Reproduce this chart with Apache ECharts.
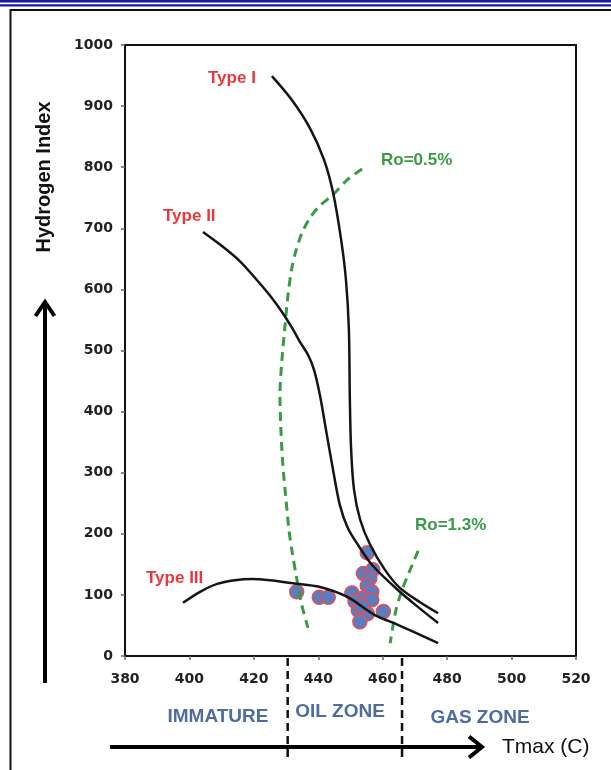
<!DOCTYPE html>
<html>
<head>
<meta charset="utf-8">
<script src="https://cdn.jsdelivr.net/npm/echarts@6/dist/echarts.min.js"></script>
<style>html,body{margin:0;padding:0;background:#fff;}#c{width:611px;height:770px;}</style>
</head>
<body>
<div id="c"></div>
<script>
// ---- data (Tmax °C, Hydrogen Index) ----
var xTicks = [380, 400, 420, 440, 460, 480, 500, 520];
var yTicks = [0, 100, 200, 300, 400, 500, 600, 700, 800, 900, 1000];
var samples = [[433.3,105],[440.3,96],[443.1,96],[450.4,103],[455.2,169],[454,135],[456.9,141],[456,127],[455.2,115],[456.6,105],[453.5,94],[456.6,92],[451.4,89],[452.4,75],[455.2,69],[460.2,73],[452.9,56],[453.5,82]];
var typeI = [[425.6,949],[431.8,910],[437.4,864],[441.8,812],[444.6,758],[447.1,681],[448.6,615],[449.5,534],[449.8,419],[450.2,337],[451.1,272],[453.0,223],[456.1,182],[460.7,141],[465.4,111],[471.6,88],[477.2,70]];
var typeII = [[404.2,694],[410.1,671],[415.7,646],[421.0,615],[425.6,586],[429.0,561],[432.2,534],[434.3,514],[436.8,493],[438.7,468],[440.5,427],[442.4,370],[444.6,304],[446.7,247],[449.2,209],[452.3,182],[456.7,149],[464.7,108],[471.0,80],[477.2,54]];
var typeIII = [[398.0,87],[403.3,105],[408.6,118],[414.1,124],[419.4,126],[425.0,124],[432.2,119],[440.5,113],[448.9,97],[457.6,67],[464.7,51],[477.2,21]];
var ro05 = [[453.6,797],[448.9,779],[444.6,755],[440.5,737],[437.4,717],[434.9,692],[433.1,664],[431.8,635],[430.6,591],[429.7,542],[428.7,484],[428.1,427],[428.4,370],[429.0,313],[430.0,255],[430.9,206],[431.8,173],[433.4,124],[434.9,83],[436.8,46]];
var ro13 = [[471.0,172],[468.5,141],[466.0,108],[464.1,75],[462.3,21]];
var zoneBounds = [430.5, 466];
var labels = {typeI:'Type I', typeII:'Type II', typeIII:'Type III', ro05:'Ro=0.5%', ro13:'Ro=1.3%'};

var chart = echarts.init(document.getElementById('c'), null, {renderer:'canvas'});
var blackLine = {color:'#151515', width:2.5};
var greenDash = {color:'#3a9a46', width:3, type:[9,6]};
function curve(d, ls, z){
  return {type:'line', data:d, showSymbol:false, symbol:'none', smooth:0.3, lineStyle:ls, z:z, silent:true};
}
var option = {
  animation:false,
  backgroundColor:'#fff',
  grid:{left:125, top:45, right:35, bottom:114, show:true, borderColor:'#111', borderWidth:2, backgroundColor:'transparent'},
  xAxis:{type:'value', min:xTicks[0], max:xTicks[xTicks.length-1], interval:20,
    axisLine:{show:true, onZero:false, lineStyle:{color:'#111', width:2}},
    axisTick:{show:true, length:4, lineStyle:{color:'#666', width:1.5}},
    axisLabel:{margin:16, fontFamily:'DejaVu Sans', fontWeight:'bold', fontSize:14, color:'#222', formatter:function(v){return String(v);}},
    splitLine:{show:false}},
  yAxis:{type:'value', min:yTicks[0], max:yTicks[yTicks.length-1], interval:100,
    axisLine:{show:true, onZero:false, lineStyle:{color:'#111', width:2}},
    axisTick:{show:true, length:4, lineStyle:{color:'#666', width:1.5}},
    axisLabel:{margin:12, fontFamily:'DejaVu Sans', fontWeight:'bold', fontSize:14, color:'#222', formatter:function(v){return String(v);}},
    splitLine:{show:false}},
  series:[
    {type:'scatter', data:samples, symbolSize:14, z:2,
      itemStyle:{color:'#5b7dbd', borderColor:'#e0505a', borderWidth:1.5, opacity:1}},
    curve(ro05, greenDash, 3),
    curve(ro13, greenDash, 3),
    curve(typeI, blackLine, 4),
    curve(typeII, blackLine, 4),
    curve(typeIII, blackLine, 4)
  ]
};
chart.setOption(option);

var bx0 = chart.convertToPixel({xAxisIndex:0}, zoneBounds[0]);
var bx1 = chart.convertToPixel({xAxisIndex:0}, zoneBounds[1]);
var red = '#e8383d', green = '#3a9a46', zoneBlue = '#4e6c9e';
function txt(t, x, y, font, fill, align){
  return {type:'text', x:x, y:y, z:100, style:{text:t, x:0, y:0, font:font, fill:fill, align:align||'left', verticalAlign:'middle'}};
}
var g = [
  {type:'rect', shape:{x:0,y:0,width:611,height:2.5}, style:{fill:'#1818a0'}, z:100},
  {type:'rect', shape:{x:0,y:4.2,width:611,height:2.3}, style:{fill:'#1818a0'}, z:100},
  {type:'line', shape:{x1:10,y1:10,x2:611,y2:10}, style:{stroke:'#111', lineWidth:2}, z:100},
  {type:'line', shape:{x1:10.5,y1:9,x2:10.5,y2:770}, style:{stroke:'#111', lineWidth:2}, z:100},
  // arrows
  {type:'line', shape:{x1:45,y1:683,x2:45,y2:303}, style:{stroke:'#000', lineWidth:4}, z:100},
  {type:'polyline', shape:{points:[[35.5,316],[45,302],[54.5,316]]}, style:{stroke:'#000', lineWidth:4, fill:null}, z:100},
  {type:'line', shape:{x1:110,y1:747,x2:481,y2:747}, style:{stroke:'#000', lineWidth:4}, z:100},
  {type:'polyline', shape:{points:[[469,736.5],[482,747],[469,757.5]]}, style:{stroke:'#000', lineWidth:4, fill:null}, z:100},
  // zone boundaries
  {type:'line', shape:{x1:bx0,y1:658,x2:bx0,y2:760}, style:{stroke:'#111', lineWidth:2.5, lineDash:[8,5]}, z:100},
  {type:'line', shape:{x1:bx1,y1:658,x2:bx1,y2:760}, style:{stroke:'#111', lineWidth:2.5, lineDash:[8,5]}, z:100},
  txt('IMMATURE', 218, 717, 'bold 19px "Liberation Sans", Arial', zoneBlue, 'center'),
  txt('OIL ZONE', 340, 712, 'bold 19px "Liberation Sans", Arial', zoneBlue, 'center'),
  txt('GAS ZONE', 480, 718, 'bold 19px "Liberation Sans", Arial', zoneBlue, 'center'),
  txt('Tmax (C)', 502, 747, '21px "Liberation Sans", Arial', '#111', 'left'),
  {type:'text', x:44, y:177, rotation:Math.PI/2, z:100, style:{text:'Hydrogen Index', x:0, y:0, font:'bold 20px "Liberation Sans", Arial', fill:'#111', align:'center', verticalAlign:'middle'}},
  txt(labels.typeI, 208, 78, 'bold 17px "Liberation Sans", Arial', red),
  txt(labels.typeII, 163, 216, 'bold 17px "Liberation Sans", Arial', red),
  txt(labels.typeIII, 146, 578, 'bold 17px "Liberation Sans", Arial', red),
  txt(labels.ro05, 381, 160, 'bold 17px "Liberation Sans", Arial', green),
  txt(labels.ro13, 415, 525, 'bold 17px "Liberation Sans", Arial', green)
];
chart.setOption({graphic:g});
</script>
</body>
</html>
